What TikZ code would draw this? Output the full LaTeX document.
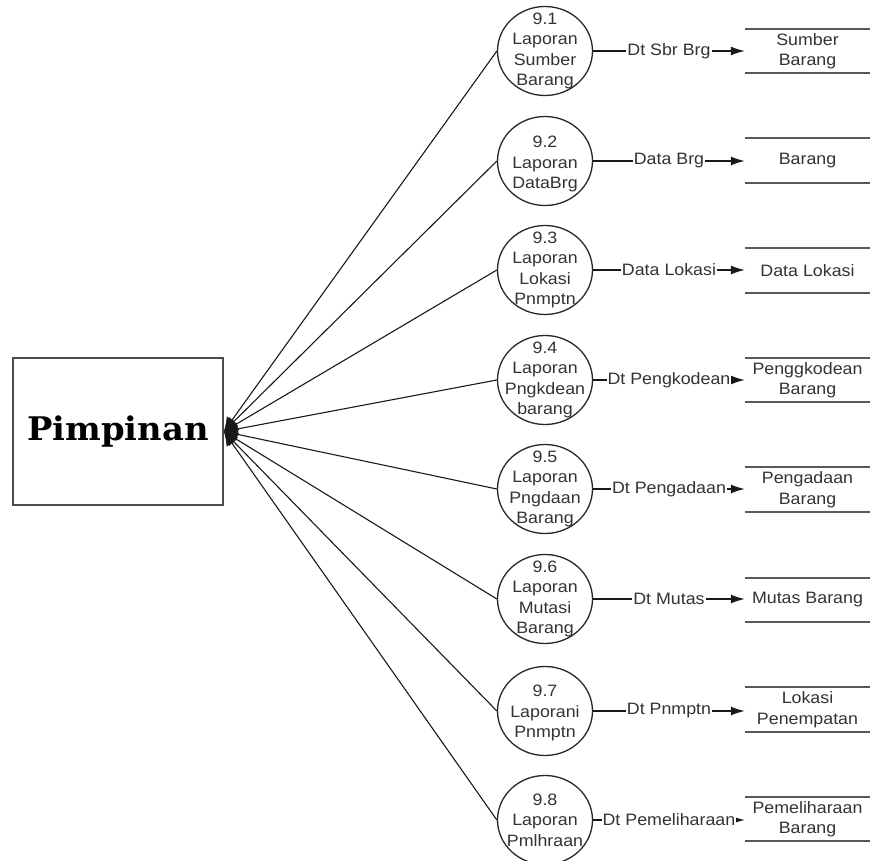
\documentclass[tikz,border=0pt]{standalone}
\usepackage{fontspec}
\setmainfont{Liberation Sans}[FakeStretch=1.08]
\newfontfamily\slabfont{DejaVu Serif}[FakeStretch=1.04]
\usetikzlibrary{arrows.meta,shapes.geometric}
\begin{document}
\begin{tikzpicture}[x=1pt,y=-1pt,
  proc/.style={ellipse,draw=black!85,line width=1.3pt,minimum width=95pt,minimum height=89pt,inner sep=0pt},
  ptext/.style={align=center,inner sep=0pt,text=black!80,font=\fontsize{16.5}{20.5}\selectfont},
  store/.style={minimum width=125pt,minimum height=44pt,inner sep=0pt,align=center,text=black!80,font=\fontsize{16.5}{20.5}\selectfont},
  storeline/.style={draw=black!65,line width=1.8pt},
  flow/.style={draw=black!90,line width=1.2pt,-{Latex[length=14pt,width=9pt]}},
  flowlbl/.style={fill=white,inner sep=1pt,text=black!80,font=\fontsize{16.5}{18}\selectfont},
  feed/.style={draw=black!90,line width=1.1pt,-{Latex[length=14pt,width=13pt]}}
]
\useasboundingbox (0,0) rectangle (870,861);

% external entity
\node[draw=black!70,line width=1.6pt,minimum width=210pt,minimum height=147pt,inner sep=0pt,
      font=\slabfont\bfseries\fontsize{32.5}{36}\selectfont] (pim) at (118,431.5) {Pimpinan};

% processes
\node[proc] (p1) at (545,51) {};
\node[proc] (p2) at (545,161) {};
\node[proc] (p3) at (545,270) {};
\node[proc] (p4) at (545,380) {};
\node[proc] (p5) at (545,489) {};
\node[proc] (p6) at (545,599) {};
\node[proc] (p7) at (545,711) {};
\node[proc] (p8) at (545,820) {};

\node[ptext] (t1) at (p1) {9.1\\Laporan\\Sumber\\Barang};
\node[ptext] (t2) at ([yshift=-3pt]p2.center) {9.2\\Laporan\\DataBrg};
\node[ptext] (t3) at (p3) {9.3\\Laporan\\Lokasi\\Pnmptn};
\node[ptext] (t4) at (p4) {9.4\\Laporan\\Pngkdean\\barang};
\node[ptext] (t5) at (p5) {9.5\\Laporan\\Pngdaan\\Barang};
\node[ptext] (t6) at (p6) {9.6\\Laporan\\Mutasi\\Barang};
\node[ptext] (t7) at ([yshift=-2pt]p7.center) {9.7\\Laporani\\Pnmptn};
\node[ptext] (t8) at (p8) {9.8\\Laporan\\Pmlhraan};

% data stores
\node[store] (s1) at (807.5,51) {Sumber\\Barang};
\node[store] (s2) at (807.5,160.5) {Barang};
\node[store] (s3) at (807.5,270.5) {Data Lokasi};
\node[store] (s4) at (807.5,380) {Penggkodean\\Barang};
\node[store] (s5) at (807.5,489.5) {Pengadaan\\Barang};
\node[store] (s6) at (807.5,600) {Mutas Barang};
\node[store] (s7) at (807.5,709.5) {Lokasi\\Penempatan};
\node[store] (s8) at (807.5,819) {Pemeliharaan\\Barang};

\foreach \s in {s1,s2,s3,s4,s5,s6,s7,s8}{
  \draw[storeline] (\s.north west) -- (\s.north east);
  \draw[storeline] (\s.south west) -- (\s.south east);
}

% flows from processes to stores
\draw[flow] (p1.east) -- node[flowlbl] (f1) {Dt Sbr Brg} (p1.east -| s1.west);
\draw[flow] (p2.east) -- node[flowlbl] (f2) {Data Brg} (p2.east -| s2.west);
\draw[flow] (p3.east) -- node[flowlbl] (f3) {Data Lokasi} (p3.east -| s3.west);
\draw[flow] (p4.east) -- node[flowlbl] (f4) {Dt Pengkodean} (p4.east -| s4.west);
\draw[flow] (p5.east) -- node[flowlbl] (f5) {Dt Pengadaan} (p5.east -| s5.west);
\draw[flow] (p6.east) -- node[flowlbl] (f6) {Dt Mutas} (p6.east -| s6.west);
\draw[flow] (p7.east) -- node[flowlbl] (f7) {Dt Pnmptn} (p7.east -| s7.west);
\draw[flow] (p8.east) -- node[flowlbl] (f8) {Dt Pemeliharaan} (p8.east -| s8.west);

% reports delivered to the entity
\foreach \p in {p1,p2,p3,p4,p5,p6,p7,p8}{
  \draw[feed] (\p.west) -- (pim.east);
}
\end{tikzpicture}
\end{document}
